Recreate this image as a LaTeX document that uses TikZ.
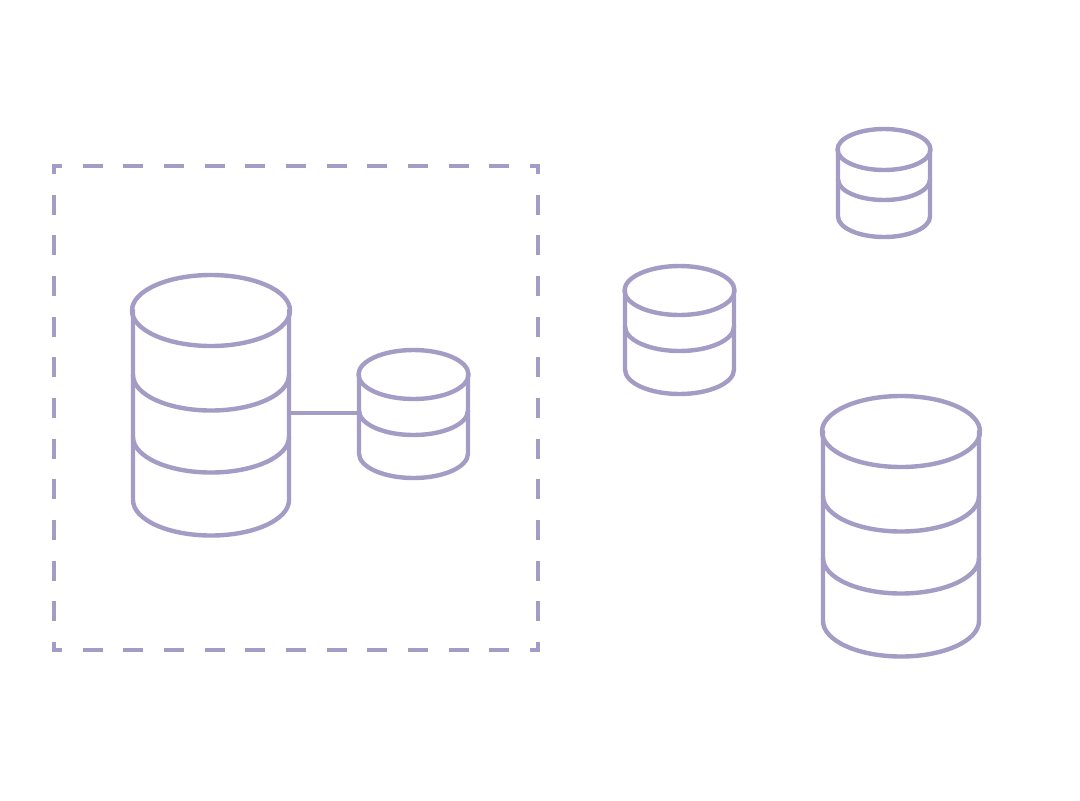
\documentclass[tikz,border=0pt]{standalone}
\usetikzlibrary{calc}
\definecolor{cylline}{HTML}{A59CC5}
\tikzset{
  cylstroke/.style={draw=cylline,line width=3.3pt,line join=round,line cap=round},
  dashside/.style={draw=cylline,line width=3.3pt,dash pattern=on 15pt off 15.49pt,dash phase=9pt},
  cornerbit/.style={fill=cylline,minimum size=3.3pt,inner sep=0pt,draw=none,rectangle}
}
% name, cx, top ellipse cy, ellipse rx, ellipse ry, body half-width, side y 1, side y 2 (offsets from cy)
\newcommand{\dbcyl}[8]{%
  \coordinate (#1-c) at (#2,#3);
  \coordinate (#1-l) at ($(#1-c)+(-#6,0)$);
  \coordinate (#1-r) at ($(#1-c)+(#6,0)$);
  \draw[cylstroke] (#1-l) -- ($(#1-l)+(0,#8)$) arc[start angle=180,end angle=0,x radius=#6,y radius=#5]
     -- (#1-r);
  \foreach \off in {#7}{
    \draw[cylstroke] ($(#1-l)+(0,\off)$) arc[start angle=180,end angle=0,x radius=#6,y radius=#5];
  }
  \draw[cylstroke] (#1-c) ellipse[x radius=#4,y radius=#5];
}
\begin{document}
\begin{tikzpicture}[x=0.75pt,y=-0.75pt]
\useasboundingbox (0,0) rectangle (1080,800);
\fill[white] (0,0) rectangle (1080,800);
% dashed frame
\node[cornerbit] (tl) at (54,166) {};
\node[cornerbit] (tr) at (538,166) {};
\node[cornerbit] (br) at (538,650) {};
\node[cornerbit] (bl) at (54,650) {};
\draw[dashside] (tl.center) -- (tr.center);
\draw[dashside] (tl.center) -- (bl.center);
\draw[dashside] (bl.center) -- (br.center);
\draw[dashside] (tr.center) -- (br.center);
\dbcyl{a}{211}{310.5}{79}{35.5}{78}{64.5,126.5}{189.5}
\dbcyl{b}{413.5}{374.5}{55}{24.5}{54.5}{36}{79}
\dbcyl{c}{679.5}{290.5}{55}{24.5}{54.5}{36}{79}
\dbcyl{d}{884}{149.5}{46.5}{20.5}{46}{30}{67}
\dbcyl{e}{901}{431.5}{79}{35.5}{78}{64.5,126.5}{189.5}
\coordinate (a-port) at ($(a-r)+(0,102.5)$);
\coordinate (b-port) at ($(b-l)+(0,38.5)$);
\draw[cylstroke,line cap=butt] (a-port) -- (b-port);
\end{tikzpicture}
\end{document}
